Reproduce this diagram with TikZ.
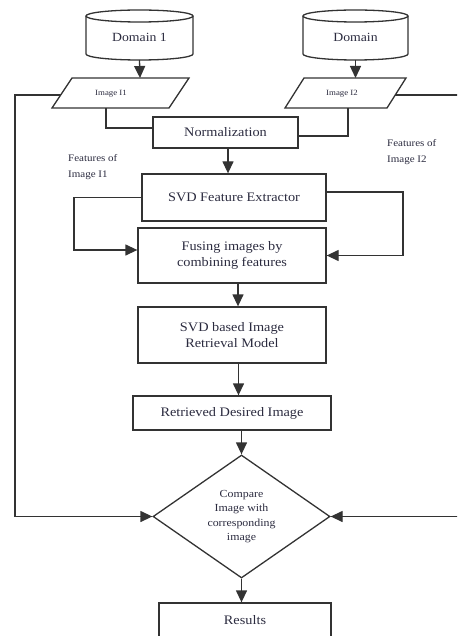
\documentclass[tikz,border=0pt]{standalone}
\usepackage{fontspec}
\setmainfont{Liberation Serif}[FakeStretch=1.1]
\usetikzlibrary{shapes.geometric,arrows.meta}
\definecolor{lc}{HTML}{333333}
\definecolor{tc}{HTML}{2B2B3F}
\begin{document}
\begin{tikzpicture}[x=1pt,y=-1pt,
  line/.style={draw=lc, line width=1.3pt},
  arr/.style={line, -{Triangle[length=12pt,width=11pt]}},
  box/.style={rectangle, draw=lc, line width=1.3pt, text=tc, align=center, inner sep=0pt,
    font=\fontsize{13}{16}\selectfont},
  small/.style={text=tc, align=left, inner sep=0pt, font=\fontsize{10}{16}\selectfont},
  tiny/.style={text=tc, inner sep=0pt, font=\fontsize{8}{9}\selectfont},
  plain/.style={text=tc, inner sep=0pt, font=\fontsize{12.5}{15}\selectfont}]
\useasboundingbox (0,0) rectangle (457,636);
\clip (0,0) rectangle (457,636);

% cylinders
\draw[line] (139.5,16) ellipse [x radius=53.5, y radius=6];
\draw[line] (86,16) -- (86,54) arc[start angle=180, end angle=0, x radius=53.5, y radius=6] -- (193,16);
\node[plain, minimum width=107pt, minimum height=50pt] (d1) at (139.5,35) {};
\node[plain] (d1t) at (139.5,37) {Domain 1};

\draw[line] (355.5,16) ellipse [x radius=52.5, y radius=6];
\draw[line] (303,16) -- (303,54) arc[start angle=180, end angle=0, x radius=52.5, y radius=6] -- (408,16);
\node[plain, minimum width=105pt, minimum height=50pt] (d2) at (355.5,35) {};
\node[plain] (d2t) at (355.5,37) {Domain};

% parallelograms
\draw[line] (72,78) -- (189,78) -- (169,108) -- (52,108) -- cycle;
\node[tiny] (i1) at (111,94) {Image I1};
\coordinate (i1n) at (140,78);
\coordinate (i1s) at (106,108);
\coordinate (i1w) at (60.7,95);

\draw[line] (304,78) -- (406,78) -- (387,108) -- (285,108) -- cycle;
\node[tiny] (i2) at (342,94) {Image I2};
\coordinate (i2n) at (355.5,78);
\coordinate (i2s) at (348,108);
\coordinate (i2e) at (395,95);

\draw[arr] (d1.south |- 0,60) -- (i1n);
\draw[arr] (d2.south |- 0,60) -- (i2n);

% boxes
\node[box, minimum width=145pt, minimum height=31pt] (norm) at (225.5,132.5) {Normalization};
\node[box, minimum width=184pt, minimum height=47pt] (fe) at (234,197.5) {SVD Feature Extractor};
\node[box, minimum width=188pt, minimum height=55pt] (fuse) at (232,255.5) {Fusing images by\\combining features};
\node[box, minimum width=188pt, minimum height=56pt] (svdm) at (232,335) {SVD based Image\\Retrieval Model};
\node[box, minimum width=198pt, minimum height=34pt] (retr) at (232,413) {Retrieved Desired Image};
\node[diamond, draw=lc, line width=1.3pt, text=tc, align=center, inner sep=0pt,
  minimum width=177pt, minimum height=123pt,
  font=\fontsize{10.8}{14.3}\selectfont] (cmp) at (241.5,516.5) {Compare\\Image with\\corresponding\\image};
\node[box, minimum width=172pt, minimum height=35pt] (res) at (245,620.5) {Results};

% labels
\node[small, anchor=north west] (f1) at (68,154) {Features of\\Image I1};
\node[small, anchor=north west] (f2) at (387,139) {Features of\\Image I2};

% connectors
\draw[line] (i1s) |- ([yshift=4.5pt]norm.west);
\draw[line] (i2s) |- ([yshift=-3.5pt]norm.east);
\draw[arr] ([xshift=2.5pt]norm.south) -- ([xshift=2.5pt]norm.south |- fe.north);
\draw[arr] (fe.west) -| (74,250) -- (fuse.west |- 0,250);
\draw[arr] ([yshift=5.5pt]fe.east) -| (403,255.5) -- (fuse.east);
\draw[arr] ([xshift=6pt]fuse.south) -- ([xshift=6pt]svdm.north);
\draw[arr] ([xshift=6.5pt]svdm.south) -- ([xshift=6.5pt]retr.north);
\draw[arr] (retr.south -| cmp.north) -- (cmp.north);
\draw[arr] (cmp.south) -- (cmp.south |- res.north);
\draw[arr] (i1w) -| (15,516.5) -- (cmp.west);
\draw[arr] (i2e) -| (470,516.5) -- (cmp.east);
\end{tikzpicture}
\end{document}
